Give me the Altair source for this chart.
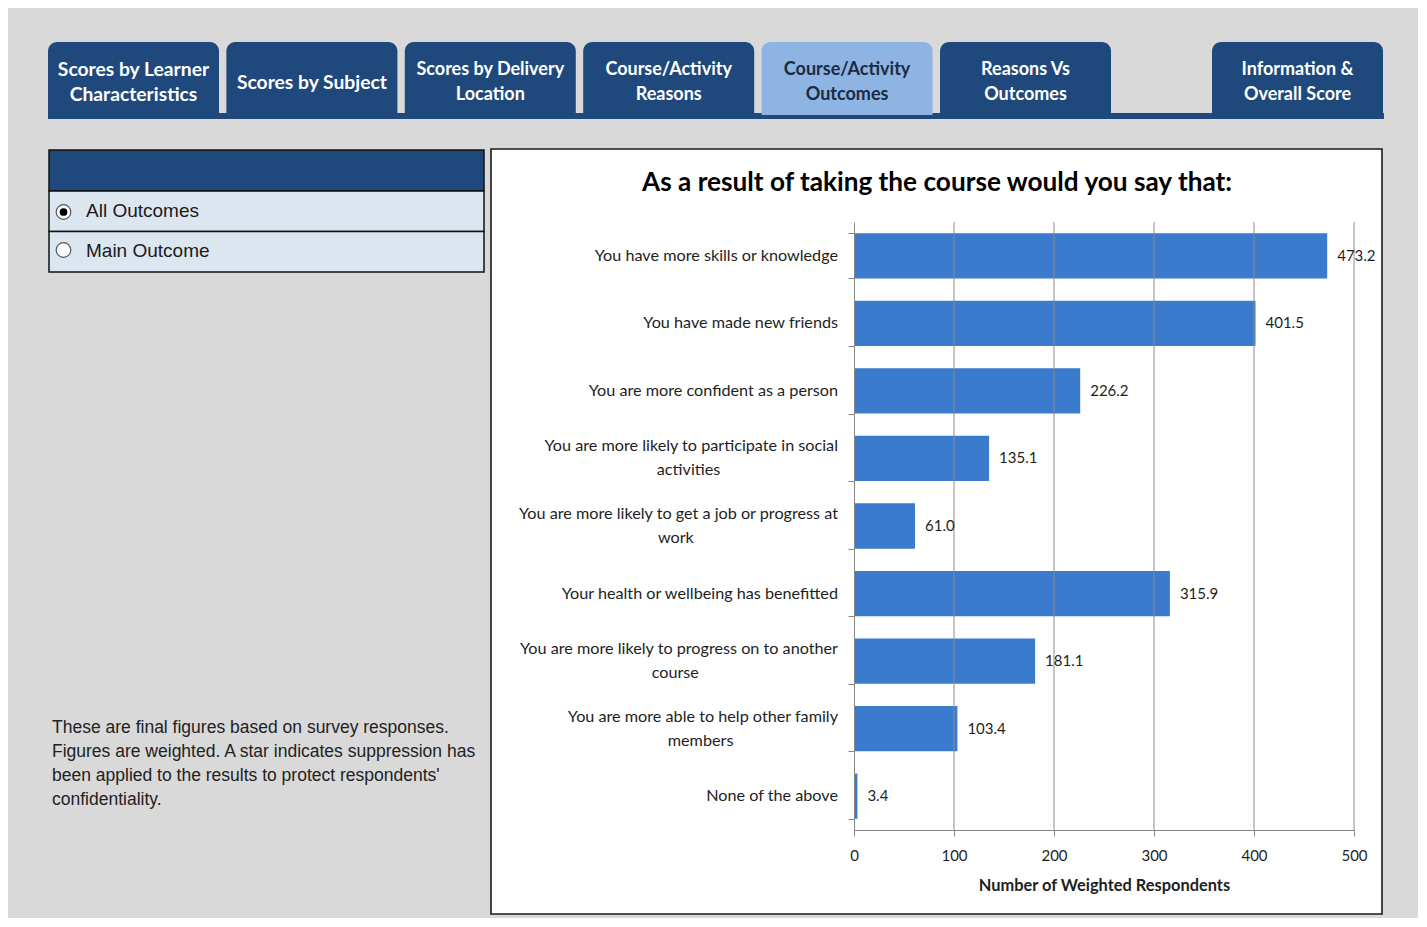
import altair as alt
import pandas as pd

# ---------------- data ----------------
outcomes = [
    "You have more skills or knowledge",
    "You have made new friends",
    "You are more confident as a person",
    "You are more likely to participate in social activities",
    "You are more likely to get a job or progress at work",
    "Your health or wellbeing has benefitted",
    "You are more likely to progress on to another course",
    "You are more able to help other family members",
    "None of the above",
]
outcome_lines = [
    ["You have more skills or knowledge"],
    ["You have made new friends"],
    ["You are more confident as a person"],
    ["You are more likely to participate in social", "activities"],
    ["You are more likely to get a job or progress at", "work"],
    ["Your health or wellbeing has benefitted"],
    ["You are more likely to progress on to another", "course"],
    ["You are more able to help other family", "members"],
    ["None of the above"],
]
respondents = [473.2, 401.5, 226.2, 135.1, 61.0, 315.9, 181.1, 103.4, 3.4]
x_ticks = [0, 100, 200, 300, 400, 500]

tab_labels = [
    "Scores by Learner\nCharacteristics",
    "Scores by Subject",
    "Scores by Delivery\nLocation",
    "Course/Activity\nReasons",
    "Course/Activity\nOutcomes",
    "Reasons Vs\nOutcomes",
    "Information &\nOverall Score",
]
active_tab = "Course/Activity\nOutcomes"
radio_options = ["All Outcomes", "Main Outcome"]
selected_option = "All Outcomes"
note_lines = [
    "These are final figures based on survey responses.",
    "Figures are weighted. A star indicates suppression has",
    "been applied to the results to protect respondents'",
    "confidentiality.",
]
chart_title = "As a result of taking the course would you say that:"
x_title = "Number of Weighted Respondents"

# ---------------- layout (page pixels -> plot-relative pixels) ----------------
OX, OY = 854, 222          # plot origin on the page
PW, PH = 500, 608          # plot size


def rx(x):
    return x - OX


def ry(y):
    return y - OY


NAVY = "#1f497d"
LIGHT_TAB = "#8db4e2"
ROW_FILL = "#dce6f1"
BAR = "#3a7bcd"
AXIS_GREY = "#868686"
TEXT = "#1e1e1e"
CHART_FONT = "Lato"
TAB_FONT = "Lato"

LATO = {
    " ": 0.193, "a": 0.465, "b": 0.54, "c": 0.453, "d": 0.54, "e": 0.51, "f": 0.31,
    "g": 0.483, "h": 0.54, "i": 0.235, "j": 0.234, "k": 0.495, "l": 0.235, "m": 0.807,
    "n": 0.54, "o": 0.55, "p": 0.536, "q": 0.54, "r": 0.373, "s": 0.423, "t": 0.345,
    "u": 0.54, "v": 0.501, "w": 0.756, "x": 0.489, "y": 0.501, "z": 0.435, "Y": 0.64,
}


def text_w(s, size):
    return sum(LATO.get(c, 0.58) for c in s) * size * 1.06


one = pd.DataFrame({"k": [0]})
LABEL_SIZE = 16.2

# ---------------- decorations ----------------
white_box = alt.Chart(one).mark_rect(fill="white", stroke="#1a1a1a", strokeWidth=1.6).encode(
    x=alt.value(rx(491)), x2=alt.value(rx(1382)), y=alt.value(ry(149)), y2=alt.value(ry(914))
)

tab_strip = alt.Chart(one).mark_rect(fill=NAVY).encode(
    x=alt.value(rx(48)), x2=alt.value(rx(1384)), y=alt.value(ry(113)), y2=alt.value(ry(119))
)

tab_left = [48 + i * 178.4 for i in range(len(tab_labels) - 1)] + [1212]
n_lines = [t.count("\n") + 1 for t in tab_labels]
tabs_df = pd.DataFrame({
    "label": tab_labels,
    "x0": [rx(v) for v in tab_left],
    "x1": [rx(v + 171) for v in tab_left],
    "xc": [rx(v + 85.5) for v in tab_left],
    "y0": [ry(42)] * len(tab_labels),
    "y1": [ry(115)] * len(tab_labels),
    "yc": [ry(82.5 - (n - 1) * 13) for n in n_lines],
    "fs": [19.3 if i < 2 else 18 for i in range(len(tab_labels))],
    "active": [t == active_tab for t in tab_labels],
})
tabs = alt.Chart(tabs_df).mark_rect(cornerRadiusTopLeft=9, cornerRadiusTopRight=9).encode(
    x=alt.X("x0:Q", scale=None), x2="x1:Q",
    y=alt.Y("y0:Q", scale=None), y2="y1:Q",
    color=alt.condition("datum.active", alt.value(LIGHT_TAB), alt.value(NAVY)),
)
tab_text = alt.Chart(tabs_df).mark_text(
    font=TAB_FONT, fontWeight="bold", lineBreak="\n", lineHeight=25,
    align="center", baseline="middle",
).encode(
    x=alt.X("xc:Q", scale=None), y=alt.Y("yc:Q", scale=None), text="label:N",
    size=alt.Size("fs:Q", scale=None, legend=None),
    color=alt.condition("datum.active", alt.value("#1c2a44"), alt.value("white")),
)

# left option panel
panel_header = alt.Chart(one).mark_rect(fill=NAVY, stroke="#111", strokeWidth=1.5).encode(
    x=alt.value(rx(49)), x2=alt.value(rx(484)), y=alt.value(ry(150)), y2=alt.value(ry(191))
)
rows_df = pd.DataFrame({
    "opt": radio_options,
    "y0": [ry(191 + 40.5 * i) for i in range(len(radio_options))],
    "y1": [ry(231.5 + 40.5 * i) for i in range(len(radio_options))],
    "yc": [ry(210.5 + 40.5 * i) for i in range(len(radio_options))],
    "yr": [ry(212 + 38 * i) for i in range(len(radio_options))],
    "xr": [rx(63.5)] * len(radio_options),
    "xt": [rx(86)] * len(radio_options),
    "sel": [o == selected_option for o in radio_options],
})
rows = alt.Chart(rows_df).mark_rect(fill=ROW_FILL, stroke="#111", strokeWidth=1.5).encode(
    x=alt.value(rx(49)), x2=alt.value(rx(484)),
    y=alt.Y("y0:Q", scale=None), y2="y1:Q",
)
radio = alt.Chart(rows_df).mark_point(shape="circle", filled=True, fill="white",
                                      stroke="#555", strokeWidth=1.2, size=215, opacity=1).encode(
    x=alt.X("xr:Q", scale=None), y=alt.Y("yr:Q", scale=None)
)
radio_dot = alt.Chart(rows_df).transform_filter("datum.sel").mark_point(
    shape="circle", filled=True, color="black", size=60, opacity=1).encode(
    x=alt.X("xr:Q", scale=None), y=alt.Y("yr:Q", scale=None)
)
row_text = alt.Chart(rows_df).mark_text(font="Liberation Sans", fontSize=19, align="left",
                                        baseline="middle", color="#1a1a1a").encode(
    x=alt.X("xt:Q", scale=None), y=alt.Y("yc:Q", scale=None), text="opt:N"
)

note_df = pd.DataFrame({
    "line": note_lines,
    "x": [rx(52)] * len(note_lines),
    "y": [ry(727.5 + 24.3 * i) for i in range(len(note_lines))],
})
note = alt.Chart(note_df).mark_text(font="Liberation Sans", fontSize=17.5, align="left",
                                    baseline="middle", color="#222").encode(
    x=alt.X("x:Q", scale=None), y=alt.Y("y:Q", scale=None), text="line:N"
)

title = alt.Chart(one).mark_text(font=CHART_FONT, fontSize=26.2, fontWeight="bold", align="center",
                                 baseline="alphabetic", color="black", text=chart_title).encode(
    x=alt.value(rx(937)), y=alt.value(ry(191))
)

# ---------------- bar chart ----------------
df = pd.DataFrame({
    "outcome": outcomes,
    "value": respondents,
    "first": [l[0] for l in outcome_lines],
    "second": [l[1] if len(l) > 1 else "" for l in outcome_lines],
    "n": [len(l) for l in outcome_lines],
})
df["xc2"] = [rx(838) - text_w(f, LABEL_SIZE) / 2 for f in df["first"]]

y_enc = alt.Y(
    "outcome:N", sort=outcomes,
    scale=alt.Scale(paddingInner=0.33, paddingOuter=0.165),
    axis=alt.Axis(labels=False, title=None, tickBand="extent", grid=False,
                  domainColor=AXIS_GREY, tickColor=AXIS_GREY, tickSize=6, zindex=1),
)
x_scale = alt.Scale(domain=[0, 500], nice=False)
x_axis = alt.Axis(values=x_ticks, grid=False, title=x_title, domainColor=AXIS_GREY,
                  tickColor=AXIS_GREY, tickSize=6, labelFont=CHART_FONT, labelFontSize=15,
                  labelColor=TEXT, labelPadding=12, labelFlush=False, titleFont=CHART_FONT,
                  titleFontSize=16.4, titleFontWeight="bold", titleColor=TEXT, titlePadding=14,
                  zindex=1)

grid_df = pd.DataFrame({"tick": x_ticks[1:]})
grid = alt.Chart(grid_df).mark_rule(color="#8c8c8c", strokeWidth=1).encode(
    x=alt.X("tick:Q", scale=x_scale, axis=x_axis), y=alt.value(0), y2=alt.value(PH)
)

bars = alt.Chart(df).mark_bar(color=BAR).encode(
    x=alt.X("value:Q", scale=x_scale, axis=x_axis),
    y=y_enc,
)
value_labels = alt.Chart(df).mark_text(font=CHART_FONT, fontSize=15, align="left", baseline="middle",
                                       dx=10, color=TEXT).encode(
    x=alt.X("value:Q", scale=x_scale, axis=x_axis), y=alt.Y("outcome:N", sort=outcomes),
    text=alt.Text("value:Q", format=".1f"),
)

lab_single = alt.Chart(df).transform_filter("datum.n == 1").mark_text(
    font=CHART_FONT, fontSize=LABEL_SIZE, align="right", baseline="middle", color=TEXT
).encode(x=alt.value(rx(838)), y=alt.Y("outcome:N", sort=outcomes), text="first:N")
lab_line1 = alt.Chart(df).transform_filter("datum.n == 2").mark_text(
    font=CHART_FONT, fontSize=LABEL_SIZE, align="right", baseline="middle", color=TEXT, dy=-12
).encode(x=alt.value(rx(838)), y=alt.Y("outcome:N", sort=outcomes), text="first:N")
lab_line2 = alt.Chart(df).transform_filter("datum.n == 2").mark_text(
    font=CHART_FONT, fontSize=LABEL_SIZE, align="center", baseline="middle", color=TEXT, dy=12
).encode(x=alt.X("xc2:Q", scale=None), y=alt.Y("outcome:N", sort=outcomes), text="second:N")

chart = alt.layer(
    white_box, tab_strip, tabs, tab_text, panel_header, rows, radio, radio_dot, row_text, note,
    title, bars, grid, value_labels, lab_single, lab_line1, lab_line2,
).properties(
    width=PW, height=PH,
    autosize=alt.AutoSizeParams(type="none"),
    padding={"left": OX - 8, "top": OY - 8, "right": 64, "bottom": 88},
    background="#d9d9d9",
).configure_view(strokeWidth=0)

chart.save("out.html", embed_options={"renderer": "svg", "actions": False})
